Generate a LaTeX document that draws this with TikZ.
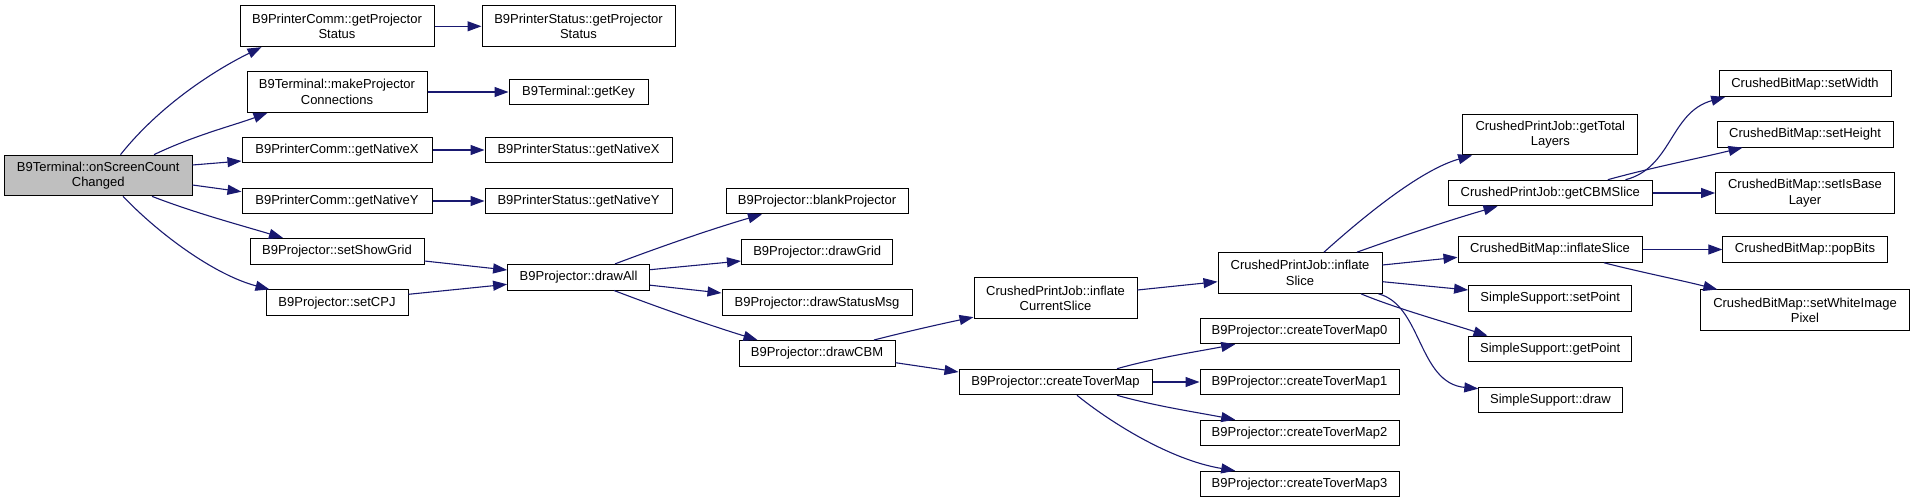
\documentclass[tikz,border=0pt]{standalone}
\usepackage{fontspec}
\setmainfont{Liberation Sans}
\usetikzlibrary{arrows.meta}
\definecolor{edgeblue}{RGB}{25,25,112}
\definecolor{rootgray}{RGB}{191,191,191}
\tikzset{
  box/.style={draw=black, fill=white, line width=1pt, inner sep=0pt, align=center,
    font=\fontsize{13pt}{15.5pt}\selectfont, minimum height=25.6pt},
  tall/.style={minimum height=40.7pt},
  edge/.style={draw=edgeblue, line width=1.1pt, -{Triangle[length=14pt,width=10pt]}},
}
\begin{document}
\begin{tikzpicture}[x=1pt,y=-1pt]
\useasboundingbox (0,0) rectangle (1915,503);
% column 0
\node[box, tall, fill=rootgray, minimum width=187.5pt] (root) at (98.25,175.5) {B9Terminal::onScreenCount\\Changed};
% column 1
\node[box, tall, minimum width=194pt] (pcgps) at (337,26.3) {B9PrinterComm::getProjector\\Status};
\node[box, tall, minimum width=180pt] (mpc) at (337,92) {B9Terminal::makeProjector\\Connections};
\node[box, minimum width=190pt] (pcgnx) at (337,150) {B9PrinterComm::getNativeX};
\node[box, minimum width=190pt] (pcgny) at (337,201) {B9PrinterComm::getNativeY};
\node[box, minimum width=174pt] (ssg) at (337,251.2) {B9Projector::setShowGrid};
\node[box, minimum width=142pt] (scpj) at (337,302.7) {B9Projector::setCPJ};
% column 2
\node[box, tall, minimum width=193pt] (psgps) at (578.5,26.3) {B9PrinterStatus::getProjector\\Status};
\node[box, minimum width=139pt] (gkey) at (578.5,92) {B9Terminal::getKey};
\node[box, minimum width=187pt] (psgnx) at (578.5,150) {B9PrinterStatus::getNativeX};
\node[box, minimum width=187pt] (psgny) at (578.5,201) {B9PrinterStatus::getNativeY};
\node[box, minimum width=142pt] (dall) at (578.6,277.2) {B9Projector::drawAll};
% column 3
\node[box, minimum width=182pt] (blank) at (817,201) {B9Projector::blankProjector};
\node[box, minimum width=151.5pt] (dgrid) at (817.2,252) {B9Projector::drawGrid};
\node[box, minimum width=190pt] (dsm) at (817,302.7) {B9Projector::drawStatusMsg};
\node[box, minimum width=156pt] (dcbm) at (817,353.3) {B9Projector::drawCBM};
% column 4
\node[box, tall, minimum width=163pt] (ics) at (1055.5,298.3) {CrushedPrintJob::inflate\\CurrentSlice};
\node[box, minimum width=193pt] (ctm) at (1055.5,382) {B9Projector::createToverMap};
% column 5
\node[box, tall, minimum width=164pt] (islice) at (1300,273) {CrushedPrintJob::inflate\\Slice};
\node[box, minimum width=199pt] (m0) at (1299.5,331) {B9Projector::createToverMap0};
\node[box, minimum width=199pt] (m1) at (1299.5,382) {B9Projector::createToverMap1};
\node[box, minimum width=199pt] (m2) at (1299.5,433) {B9Projector::createToverMap2};
\node[box, minimum width=199pt] (m3) at (1299.5,484) {B9Projector::createToverMap3};
% column 6
\node[box, tall, minimum width=175.3pt] (gtl) at (1550.3,134.5) {CrushedPrintJob::getTotal\\Layers};
\node[box, minimum width=204.5pt] (gcbm) at (1550.3,193) {CrushedPrintJob::getCBMSlice};
\node[box, minimum width=184pt] (cbmis) at (1550,249.5) {CrushedBitMap::inflateSlice};
\node[box, minimum width=163.2pt] (setp) at (1550.2,298.5) {SimpleSupport::setPoint};
\node[box, minimum width=163.2pt] (getp) at (1550.2,349) {SimpleSupport::getPoint};
\node[box, minimum width=143.2pt] (sdraw) at (1550.4,400) {SimpleSupport::draw};
% column 7
\node[box, minimum width=172pt] (sw) at (1805,83.7) {CrushedBitMap::setWidth};
\node[box, minimum width=176pt] (sh) at (1805,134.3) {CrushedBitMap::setHeight};
\node[box, tall, minimum width=178.8pt] (sibl) at (1805,193) {CrushedBitMap::setIsBase\\Layer};
\node[box, minimum width=164.3pt] (pop) at (1805,249.5) {CrushedBitMap::popBits};
\node[box, tall, minimum width=208.2pt] (swip) at (1805,310.3) {CrushedBitMap::setWhiteImage\\Pixel};
% edges from root
\draw[edge] ([xshift=22.25pt]root.north) .. controls (160,105) and (215,70) .. ([xshift=22pt]pcgps.south west);
\draw[edge] ([xshift=55.75pt]root.north) .. controls (195,135) and (235,125) .. ([xshift=21pt]mpc.south west);
\draw[edge] ([yshift=10.5pt]root.east) -- ([yshift=-11pt]pcgnx.west);
\draw[edge] ([yshift=-9.5pt]root.east) -- ([yshift=9.3pt]pcgny.west);
\draw[edge] ([xshift=53.75pt]root.south) .. controls (195,213) and (240,225) .. ([xshift=33.5pt]ssg.north west);
\draw[edge] ([xshift=24.75pt]root.south) .. controls (160,235) and (215,275) .. ([xshift=4pt]scpj.north west);
% column 1 -> 2
\draw[edge] (pcgps.east) -- (psgps.west);
\draw[edge] (mpc.east) -- (gkey.west);
\draw[edge] (pcgnx.east) -- (psgnx.west);
\draw[edge] (pcgny.east) -- (psgny.west);
\draw[edge] ([yshift=-9.8pt]ssg.east) -- ([yshift=7.2pt]dall.west);
\draw[edge] ([yshift=8.4pt]scpj.east) -- ([yshift=-7.1pt]dall.west);
% drawAll
\draw[edge] ([xshift=36.4pt]dall.north) .. controls (665,245) and (715,228) .. ([xshift=36.5pt]blank.south west);
\draw[edge] ([yshift=7.5pt]dall.east) -- ([yshift=-9pt]dgrid.west);
\draw[edge] ([yshift=-8pt]dall.east) -- ([yshift=9.7pt]dsm.west);
\draw[edge] ([xshift=35.4pt]dall.south) .. controls (665,310) and (715,327) .. ([xshift=19pt]dcbm.north west);
% drawCBM
\draw[edge] ([xshift=57pt]dcbm.north) .. controls (905,332) and (945,323) .. ([yshift=2pt]ics.south west);
\draw[edge] ([yshift=-9.4pt]dcbm.east) -- ([yshift=10pt]ctm.west);
% inflateCurrentSlice
\draw[edge] ([yshift=8.3pt]ics.east) -- ([yshift=-8.7pt]islice.west);
% createToverMap
\draw[edge] ([xshift=61.5pt]ctm.north) .. controls (1155,358) and (1195,352) .. ([xshift=35.7pt]m0.south west);
\draw[edge] (ctm.east) -- (m1.west);
\draw[edge] ([xshift=61.5pt]ctm.south) .. controls (1155,406) and (1195,412) .. ([xshift=35.7pt]m2.north west);
\draw[edge] ([xshift=21.5pt]ctm.south) .. controls (1110,422) and (1170,460) .. ([xshift=35.7pt]m3.north west);
% inflateSlice
\draw[edge] ([xshift=24pt]islice.north) .. controls (1362,218) and (1420,170) .. ([xshift=10pt]gtl.south west);
\draw[edge] ([xshift=57pt]islice.north) .. controls (1405,235) and (1450,220) .. ([xshift=50pt]gcbm.south west);
\draw[edge] ([yshift=8pt]islice.east) -- ([yshift=-7.8pt]cbmis.west);
\draw[edge] ([yshift=-8.7pt]islice.east) -- ([yshift=8.5pt]setp.west);
\draw[edge] ([xshift=61pt]islice.south) .. controls (1395,308) and (1445,322) .. ([xshift=19.4pt]getp.north west);
\draw[edge] ([xshift=-4pt]islice.south east) .. controls (1422,305) and (1418,383) .. ([yshift=-2pt]sdraw.north west);
% getCBMSlice
\draw[edge] ([xshift=75.2pt]gcbm.north) .. controls (1672,168) and (1670,112) .. ([xshift=6.7pt]sw.south west);
\draw[edge] ([xshift=57.5pt]gcbm.north) .. controls (1650,168) and (1700,158) .. ([xshift=26pt]sh.south west);
\draw[edge] (gcbm.east) -- (sibl.west);
% CrushedBitMap::inflateSlice
\draw[edge] (cbmis.east) -- (pop.west);
\draw[edge] ([xshift=54pt]cbmis.south) .. controls (1640,272) and (1680,280) .. ([xshift=17pt]swip.north west);
\end{tikzpicture}
\end{document}
